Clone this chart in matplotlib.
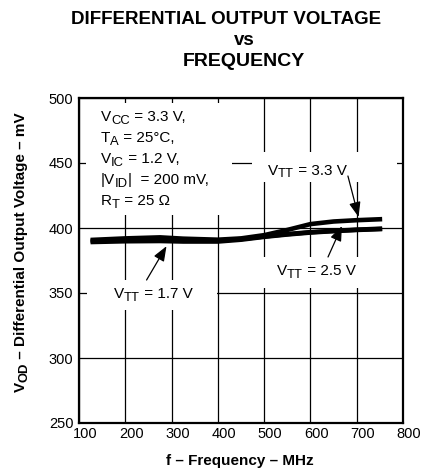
import matplotlib
matplotlib.use("Agg")
import matplotlib.pyplot as plt
from matplotlib.patches import Rectangle
from matplotlib.transforms import ScaledTranslation

plt.rcParams["font.family"] = ["Liberation Sans", "DejaVu Sans"]

# Differential output voltage (mV) versus frequency (MHz) for three VTT supplies
freq_mhz = [125, 200, 275, 325, 400, 450, 500, 550, 600, 650, 700, 755]
vod_vtt_3v3 = [390.8, 392.0, 392.8, 391.8, 391.0, 392.0, 394.5, 398.5, 403.0, 405.0, 406.0, 406.8]
vod_vtt_2v5 = [390.0, 390.8, 391.2, 390.6, 390.3, 391.5, 393.5, 395.3, 396.8, 397.8, 398.7, 399.5]
vod_vtt_1v7 = [389.2, 389.8, 390.0, 389.6, 389.6, 391.0, 393.2, 395.0, 396.5, 397.6, 398.5, 399.2]

x_ticks = [100, 200, 300, 400, 500, 600, 700, 800]
y_ticks = [250, 300, 350, 400, 450, 500]

# (text, is_subscript) pieces
conditions = [
    [("V", False), ("CC", True), (" = 3.3 V,", False)],
    [("T", False), ("A", True), (" = 25°C,", False)],
    [("V", False), ("IC", True), (" = 1.2 V,", False)],
    [("|V", False), ("ID", True), ("|  = 200 mV,", False)],
    [("R", False), ("T", True), (" = 25 Ω", False)],
]
label_3v3 = [("V", False), ("TT", True), (" = 3.3 V", False)]
label_2v5 = [("V", False), ("TT", True), (" = 2.5 V", False)]
label_1v7 = [("V", False), ("TT", True), (" = 1.7 V", False)]
ylabel_parts = [("V", False), ("OD", True), (" – Differential Output Voltage – mV", False)]

SUB_SCALE = 0.85
SUB_DROP = 0.17

fig = plt.figure(figsize=(4.27, 4.70), dpi=100)
W, H = 427, 470
ax = fig.add_axes([79 / W, 1 - 423 / H, (403 - 79) / W, (423 - 98) / H])
renderer = fig.canvas.get_renderer()


def rich_text(x, y, parts, size, transform, ha="left", rotation=0,
              weight="normal", zorder=4):
    """Draw text with real subscripts by laying pieces side by side."""
    items = []
    for s, sub in parts:
        fs = size * SUB_SCALE if sub else size
        t = fig.text(x, y, s, fontsize=fs, fontweight=weight, ha="left",
                     va="baseline", rotation=rotation, rotation_mode="anchor",
                     zorder=zorder)
        bb = t.get_window_extent(renderer)
        w = (bb.height if rotation == 90 else bb.width) / fig.dpi
        items.append((t, w, sub))
    total = sum(w for _, w, _ in items)
    off = -total / 2 if ha == "center" else 0.0
    for t, w, sub in items:
        drop = SUB_DROP * size / 72 if sub else 0.0
        if rotation == 90:
            dx, dy = drop, off
        else:
            dx, dy = off, -drop
        t.set_transform(transform + ScaledTranslation(dx, dy, fig.dpi_scale_trans))
        off += w


ax.set_xlim(100, 800)
ax.set_ylim(250, 500)
ax.set_xticks(x_ticks)
ax.set_yticks(y_ticks)
ax.tick_params(length=0, labelsize=10.5, pad=4)
ax.tick_params(axis="x", pad=3)
for lbl in ax.get_xticklabels():
    lbl.set_transform(lbl.get_transform() + ScaledTranslation(6 / 100, 0, fig.dpi_scale_trans))
ax.grid(True, color="black", linewidth=0.9, zorder=0.5)
ax.set_axisbelow(True)
for sp in ax.spines.values():
    sp.set_linewidth(1.6)
    sp.set_zorder(5)

# white panels behind the annotation texts (cut the grid)
panels = [
    (115, 410, 431 - 115, 496 - 410),
    (474, 435.4, 787 - 474, 458.5 - 435.4),
    (495, 354, 761 - 495, 377.7 - 354),
    (117, 337, 398 - 117, 360 - 337),
]
for (x0, y0, w, h) in panels:
    ax.add_patch(Rectangle((x0, y0), w, h, facecolor="white", edgecolor="none", zorder=1))

for vals in (vod_vtt_1v7, vod_vtt_2v5, vod_vtt_3v3):
    ax.plot(freq_mhz, vals, color="black", linewidth=3.3, solid_capstyle="butt",
            solid_joinstyle="round", zorder=3)

# operating conditions block
cond_y = [482.3, 466.2, 450.0, 433.9, 417.7]
for parts, yy in zip(conditions, cond_y):
    rich_text(147, yy, parts, 11, ax.transData)

# curve labels with pointer arrows
rich_text(593, 441.0, label_3v3, 11, ax.transData, ha="center")
rich_text(612, 363.5, label_2v5, 11, ax.transData, ha="center")
rich_text(260, 346.0, label_1v7, 11, ax.transData, ha="center")

arrow = dict(arrowstyle="-|>,head_length=0.9,head_width=0.35", color="black",
             lw=0.9, shrinkA=0, shrinkB=0, mutation_scale=10)
ax.annotate("", xy=(704, 408.5), xytext=(681, 440.0), arrowprops=arrow, zorder=4)
ax.annotate("", xy=(668, 401.5), xytext=(638, 377.7), arrowprops=arrow, zorder=4)
ax.annotate("", xy=(289, 386.0), xytext=(246, 360.0), arrowprops=arrow, zorder=4)

# titles and axis labels
fig.text(226 / W, 1 - 24.5 / H, "DIFFERENTIAL OUTPUT VOLTAGE", fontsize=13.5,
         fontweight="bold", ha="center", va="baseline")
fig.text(244 / W, 1 - 45 / H, "vs", fontsize=13.5, fontweight="bold",
         ha="center", va="baseline")
fig.text(244 / W, 1 - 65.5 / H, "FREQUENCY", fontsize=14, fontweight="bold",
         ha="center", va="baseline")
fig.text(240 / W, 1 - 461 / H, "f – Frequency – MHz", fontsize=11,
         fontweight="bold", ha="center", va="center")
rich_text(25 / W, 1 - 252 / H, ylabel_parts, 11, fig.transFigure, ha="center",
          rotation=90, weight="bold")

fig.savefig("out.png", dpi=100)
